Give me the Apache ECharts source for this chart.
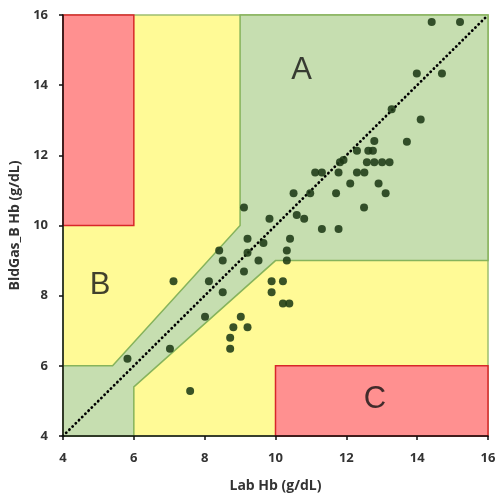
<!DOCTYPE html>
<html>
<head>
<meta charset="utf-8">
<script src="https://cdn.jsdelivr.net/npm/echarts@6/dist/echarts.min.js"></script>
<style>html,body{margin:0;padding:0;background:#fff;}#c{width:497px;height:497px;}</style>
</head>
<body>
<div id="c"></div>
<script>
// ---- data ----
const labHb = [14.41,15.21,13.99,14.70,13.28,14.10,13.71,12.79,12.30,12.62,12.75,12.58,12.79,13.01,13.22,11.82,11.92,11.12,11.31,11.78,12.30,12.51,12.11,12.91,10.51,10.98,11.71,13.11,9.11,12.50,9.83,10.60,10.81,11.31,11.78,9.21,10.41,8.41,9.66,10.32,10.32,8.51,9.21,9.52,9.11,8.12,8.51,8.01,7.02,5.82,7.12,9.89,10.21,9.89,10.21,10.39,9.02,8.81,9.21,8.72,8.72,7.59];
const bldGasHb = [15.80,15.80,14.33,14.33,13.31,13.02,12.39,12.41,12.13,12.13,12.13,11.80,11.80,11.80,11.80,11.80,11.87,11.51,11.51,11.51,11.51,11.51,11.20,11.20,10.92,10.92,10.92,10.92,10.51,10.51,10.19,10.30,10.19,9.90,9.90,9.62,9.62,9.29,9.50,9.29,9.00,9.00,9.22,9.00,8.69,8.41,8.10,7.40,6.49,6.20,8.41,8.41,8.41,8.10,7.78,7.78,7.40,7.10,7.10,6.80,6.49,5.28];
const axisTicks = [4, 6, 8, 10, 12, 14, 16];
const zoneBackground = [[4,4],[4,16],[16,16],[16,4]];
const zoneA = [[4,4],[4,6],[5.4,6],[9,10],[9,16],[16,16],[16,9],[10,9],[6,5.4],[6,4]];
const zoneCTop = [[4,10],[4,16],[6,16],[6,10]];
const zoneCBottom = [[10,4],[10,6],[16,6],[16,4]];
const zoneLabels = ['A', 'B', 'C'];
const zoneLabelX = [10.74, 5.05, 12.81];
const zoneLabelY = [14.41, 8.30, 5.05];
const identityLine = [[4,4],[16,16]];

// ---- styles ----
const zones = [zoneBackground, zoneA, zoneCTop, zoneCBottom];
const zoneFill = ['#FFFA96', '#C6DEB0', '#FF9090', '#FF9090'];
const zoneStroke = ['#9DBF70', '#86B35C', '#D8262A', '#D8262A'];

const chart = echarts.init(document.getElementById('c'), null, {renderer: 'canvas'});
const axisCommon = {
  type: 'value', min: axisTicks[0], max: axisTicks[axisTicks.length - 1], interval: 2,
  z: 10,
  splitLine: {show: false},
  axisLine: {show: true, lineStyle: {color: '#111', width: 1.5}},
  axisTick: {show: true, inside: false, length: 4, lineStyle: {color: '#111', width: 1.5}},
  nameLocation: 'middle',
  nameTextStyle: {fontFamily: 'Open Sans', fontWeight: 'bold', fontSize: 14, color: '#333'}
};
chart.setOption({
  animation: false,
  grid: {left: 63, right: 9, top: 15, bottom: 61, outerBoundsMode: 'none', containLabel: false},
  xAxis: Object.assign({}, axisCommon, {
    name: 'Lab Hb (g/dL)', nameGap: 43,
    axisLabel: {margin: 16, fontFamily: 'Open Sans', fontWeight: 'bold', fontSize: 13, color: '#333'}
  }),
  yAxis: Object.assign({}, axisCommon, {
    name: 'BldGas_B Hb (g/dL)', nameGap: 38,
    axisLabel: {margin: 15, fontFamily: 'Open Sans', fontWeight: 'bold', fontSize: 13, color: '#333'}
  }),
  series: [
    {
      type: 'custom', z: 1, silent: true,
      data: zones.map(z => z[0]),
      renderItem: function (params, api) {
        const poly = zones[params.dataIndex].map(p => api.coord(p));
        return {
          type: 'polygon',
          shape: {points: poly},
          style: {fill: zoneFill[params.dataIndex], stroke: zoneStroke[params.dataIndex], lineWidth: 1.5}
        };
      }
    },
    {
      type: 'line', z: 3, silent: true, symbol: 'none',
      data: identityLine,
      lineStyle: {color: '#000', width: 2.8, type: [0.1, 4.4], cap: 'round'}
    },
    {
      type: 'scatter', z: 4,
      symbolSize: 8,
      itemStyle: {color: '#1E3A16', opacity: 0.88},
      data: labHb.map((x, i) => [x, bldGasHb[i]])
    },
    {
      type: 'scatter', z: 5, symbolSize: 0, silent: true,
      data: zoneLabels.map((t, i) => [zoneLabelX[i], zoneLabelY[i], t]),
      label: {
        show: true, position: 'inside',
        formatter: p => p.data[2],
        fontFamily: 'Liberation Sans', fontSize: 31, color: '#111'
      }
    }
  ]
});
</script>
</body>
</html>
